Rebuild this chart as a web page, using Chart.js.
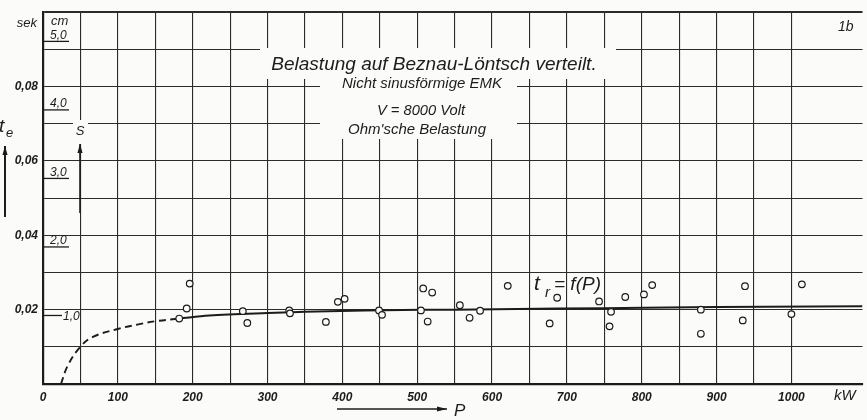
<!DOCTYPE html>
<html lang="de">
<head>
<meta charset="UTF-8" />
<title>Belastung auf Beznau-Löntsch verteilt</title>
<script src="https://cdn.jsdelivr.net/npm/chart.js"></script>
<style>
  html,body{margin:0;padding:0;background:#fbfbf9;}
  #wrap{width:867px;height:420px;}
</style>
</head>
<body>
<div id="wrap"><canvas id="chart" width="867" height="420"></canvas></div>
<script>
/* ---------- measured points: P in kW, t in sek ---------- */
const measuredP = [182,192,196,267,273,329,330,378,394,403,449,453,505,508,514,520,557,570,584,621,677,687,743,757,759,778,803,814,879,879,935,938,1000,1014];
const measuredT = [0.0176,0.0203,0.0270,0.0196,0.0164,0.0198,0.0190,0.0167,0.0221,0.0229,0.0198,0.0186,0.0198,0.0257,0.0168,0.0246,0.0212,0.0178,0.0197,0.0264,0.0163,0.0232,0.0222,0.0155,0.0194,0.0234,0.0241,0.0266,0.0200,0.0135,0.0171,0.0263,0.0188,0.0268];

/* ---------- curve t_r = f(P) ---------- */
const dashedP = [24,33,49,66,100,129,151,182];
const dashedT = [0,0.0049,0.0098,0.0126,0.0148,0.0161,0.0169,0.0176];
const solidP  = [182,222,300,350,430,550,750,900,1095];
const solidT  = [0.0176,0.0184,0.0191,0.0194,0.0198,0.0200,0.0204,0.0207,0.0209];

/* ---------- axes / tick labels ---------- */
const xMax = 1095, yMax = 0.1;
const xLabelValues = [0,100,200,300,400,500,600,700,800,900,1000];
const yLabelValues = [0.02,0.04,0.06,0.08];
const cmTicks = [1,2,3,4,5];
const sekPerCm = 0.01843;

const ink = '#1c1c1c', paper = '#fbfbf9';
const F = (style,size)=>`${style} ${size}px "Liberation Sans", Arial, sans-serif`;

const toXY = (xs,ys)=>xs.map((x,i)=>({x:x,y:ys[i]}));

function arrow(ctx,x0,y0,x1,y1,head){
  const a=Math.atan2(y1-y0,x1-x0);
  ctx.beginPath();ctx.moveTo(x0,y0);ctx.lineTo(x1,y1);ctx.stroke();
  ctx.beginPath();
  ctx.moveTo(x1,y1);
  ctx.lineTo(x1-head*Math.cos(a)+2.6*Math.sin(a), y1-head*Math.sin(a)-2.6*Math.cos(a));
  ctx.lineTo(x1-head*Math.cos(a)-2.6*Math.sin(a), y1-head*Math.sin(a)+2.6*Math.cos(a));
  ctx.closePath();ctx.fill();
}

/* ---------- decorations: text boxes, cm scale, lettering ---------- */
const deco = {
  id:'deco',
  beforeDatasetsDraw(chart){
    const ctx=chart.ctx;
    ctx.save();
    ctx.fillStyle=paper;
    ctx.fillRect(260,48,356,31);   // title
    ctx.fillRect(320,79,197,60);   // sub lines
    ctx.fillRect(73,120,15,24);    // "S"
    ctx.restore();
  },
  afterDraw(chart){
    const ctx=chart.ctx, y=chart.scales.y;
    ctx.save();
    ctx.fillStyle=ink;ctx.strokeStyle=ink;ctx.textBaseline='alphabetic';

    // secondary cm scale on the left edge of the grid
    ctx.lineWidth=1.3;
    cmTicks.forEach(c=>{
      const py=y.getPixelForValue(c*sekPerCm);
      const lab=c.toFixed(1).replace('.',',');
      ctx.font=F('italic',12);
      if(c===1){
        ctx.beginPath();ctx.moveTo(43,py);ctx.lineTo(62,py);ctx.stroke();
        ctx.textAlign='left';ctx.fillText(lab,63,py+4.5);
      }else{
        ctx.beginPath();ctx.moveTo(43,py);ctx.lineTo(69,py);ctx.stroke();
        ctx.textAlign='left';ctx.fillText(lab,50,py-2.5);
      }
    });
    ctx.font=F('italic',13);ctx.textAlign='left';
    ctx.fillText('cm',51,25);
    ctx.textAlign='right';
    ctx.fillText('sek',37,27);

    // t_e with arrow
    ctx.textAlign='left';
    ctx.font=F('italic',19);ctx.fillText('t',-1,132);
    ctx.font=F('italic',13);ctx.fillText('e',6,137);
    ctx.lineWidth=2;
    arrow(ctx,5,217,5,146,9);

    // S with arrow on the 50 kW line
    ctx.font=F('italic',13);ctx.textAlign='center';
    ctx.fillText('S',80,135);
    ctx.lineWidth=1.6;
    arrow(ctx,80,213,80,144,9);

    // title block
    ctx.textAlign='center';
    ctx.font=F('italic',19);
    ctx.fillText('Belastung auf Beznau-Löntsch verteilt.',434,70,348);
    ctx.font=F('italic',15);
    ctx.fillText('Nicht sinusförmige EMK',422,88,180);
    ctx.fillText('V = 8000 Volt',421,115,88);
    ctx.fillText('Ohm\'sche Belastung',417,134,148);

    // curve label t_r = f(P)
    ctx.textAlign='left';
    ctx.font=F('italic',21);ctx.fillText('t',534,290);
    ctx.font=F('italic',15);ctx.fillText('r',545,297);
    ctx.font=F('italic',19);ctx.fillText('= f(P)',554,290,59);

    // figure tag
    ctx.font=F('italic',14);ctx.fillText('1b',838,31);

    // unit and P arrow below the axis
    ctx.font=F('italic',15);ctx.fillText('kW',834,400);
    ctx.lineWidth=1.6;
    arrow(ctx,337,409,447,409,10);
    ctx.font=F('italic',17);ctx.fillText('P',454,416);
    ctx.restore();
  }
};

const chart = new Chart(document.getElementById('chart').getContext('2d'),{
  type:'scatter',
  data:{datasets:[
    {label:'Messpunkte',data:toXY(measuredP,measuredT),pointRadius:3.3,pointHoverRadius:3.3,
     pointBackgroundColor:paper,pointBorderColor:ink,pointBorderWidth:1.2,order:0},
    {label:'t_r extrapoliert',data:toXY(dashedP,dashedT),showLine:true,borderColor:ink,borderWidth:1.9,
     borderDash:[7,4.5],pointRadius:0,tension:0.4,order:1},
    {label:'t_r = f(P)',data:toXY(solidP,solidT),showLine:true,borderColor:ink,borderWidth:2,
     pointRadius:0,cubicInterpolationMode:'monotone',order:1}
  ]},
  options:{
    responsive:false,animation:false,
    layout:{padding:{top:10,left:0,right:0,bottom:0}},
    plugins:{legend:{display:false},tooltip:{enabled:false}},
    scales:{
      x:{type:'linear',min:0,max:xMax,
        afterBuildTicks:s=>{s.ticks=s.ticks.filter(t=>t.value%50===0);},
        afterFit:s=>{s.height=36;},
        ticks:{stepSize:50,autoSkip:false,maxRotation:0,padding:6,color:ink,
          font:{family:'"Liberation Sans", Arial, sans-serif',size:12,style:'italic',weight:'bold'},
          callback:v=>xLabelValues.includes(v)?String(v):''},
        grid:{color:'#2b2b2b',lineWidth:1.1,drawTicks:false},
        border:{display:true,color:ink,width:2.2}},
      y:{type:'linear',min:0,max:yMax,
        afterFit:s=>{s.width=43;},
        ticks:{stepSize:0.01,autoSkip:false,padding:5,color:ink,
          font:{family:'"Liberation Sans", Arial, sans-serif',size:12,style:'italic',weight:'bold'},
          callback:v=>yLabelValues.some(l=>Math.abs(l-v)<1e-6)?v.toFixed(2).replace('.',','):''},
        grid:{color:'#2b2b2b',drawTicks:false,
          lineWidth:c=>Math.abs(c.tick.value-yMax)<1e-6?2:1.1},
        border:{display:true,color:ink,width:2.2}}
    }
  },
  plugins:[deco]
});
</script>
</body>
</html>
